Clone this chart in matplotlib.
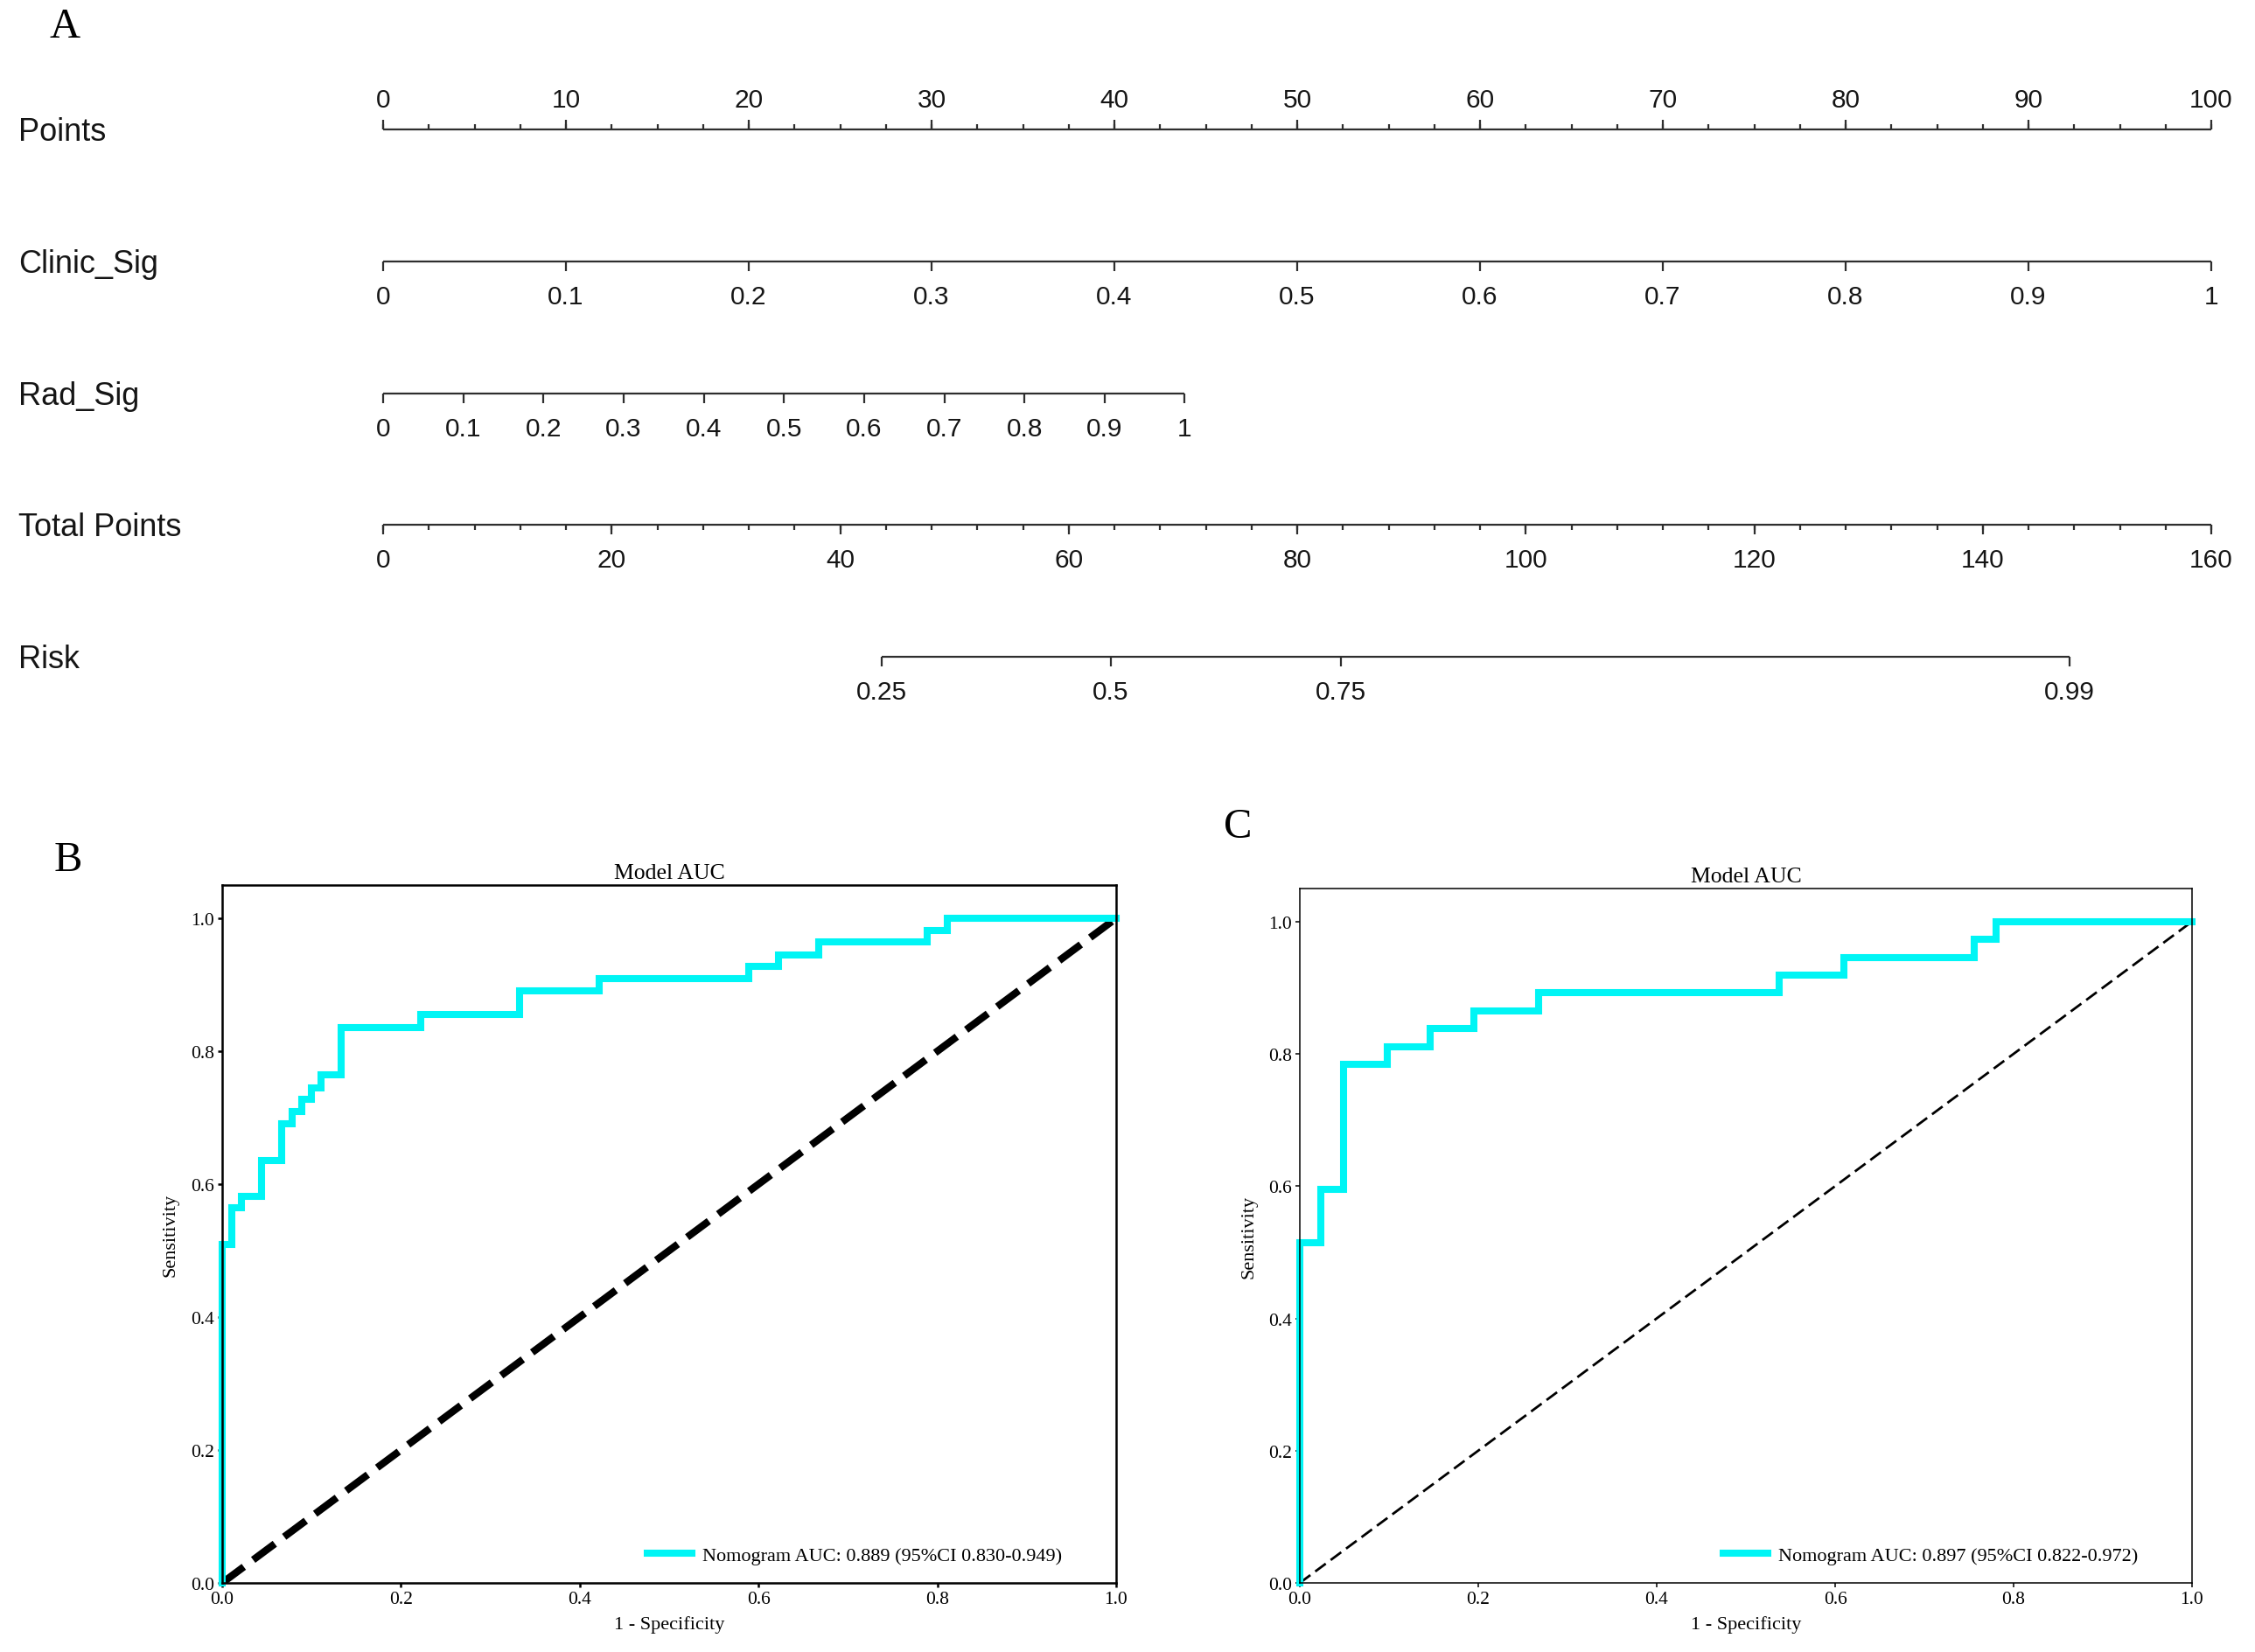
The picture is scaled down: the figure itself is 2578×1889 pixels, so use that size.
"""
Nomogram (A) plus ROC curves for training (B) and validation (C) sets.
"""

import numpy as np
import matplotlib
matplotlib.use('Agg')
import matplotlib.pyplot as plt

W, H = 2578, 1890

# ---------------------------------------------------------------------------
# Nomogram scales (values mapped onto the 0-100 "Points" axis)
# ---------------------------------------------------------------------------
row_names = ['Points', 'Clinic_Sig', 'Rad_Sig', 'Total Points', 'Risk']

points_ticks = [0, 10, 20, 30, 40, 50, 60, 70, 80, 90, 100]
clinic_ticks = [0, 0.1, 0.2, 0.3, 0.4, 0.5, 0.6, 0.7, 0.8, 0.9, 1]
clinic_max_points = 100.0
rad_ticks = [0, 0.1, 0.2, 0.3, 0.4, 0.5, 0.6, 0.7, 0.8, 0.9, 1]
rad_max_points = 43.85
total_ticks = [0, 20, 40, 60, 80, 100, 120, 140, 160]
total_max = 160
risk_ticks = [0.25, 0.5, 0.75, 0.99]
risk_total_points = [43.6, 63.7, 83.8, 147.6]

# ---------------------------------------------------------------------------
# ROC curves
# ---------------------------------------------------------------------------
fpr_train = [0, 0, 0.011, 0.022, 0.044, 0.067, 0.078, 0.089, 0.100, 0.111,
             0.133, 0.222, 0.333, 0.422, 0.589, 0.622, 0.667, 0.789, 0.811, 1.0]
tpr_train = [0, 0.509, 0.564, 0.582, 0.636, 0.691, 0.709, 0.727, 0.745, 0.764,
             0.836, 0.855, 0.891, 0.909, 0.927, 0.945, 0.964, 0.982, 1.0, 1.0]
label_train = 'Nomogram AUC: 0.889 (95%CI 0.830-0.949)'

fpr_test = [0, 0, 0.024, 0.049, 0.098, 0.146, 0.195, 0.268, 0.537, 0.610,
            0.756, 0.780, 1.0]
tpr_test = [0, 0.514, 0.595, 0.784, 0.811, 0.838, 0.865, 0.892, 0.919, 0.946,
            0.973, 1.0, 1.0]
label_test = 'Nomogram AUC: 0.897 (95%CI 0.822-0.972)'

roc_ticks = [0.0, 0.2, 0.4, 0.6, 0.8, 1.0]

SANS = ['Liberation Sans', 'DejaVu Sans']
SERIF = ['Liberation Serif', 'DejaVu Serif']
NOMO_COLOR = '#2e2e2e'
TXT_COLOR = '#151515'
PX = 72.0 / 100  # points per pixel at dpi 100


def px_axes(left, top, right, bottom):
    return [left / W, 1 - bottom / H, (right - left) / W, (bottom - top) / H]


fig = plt.figure(figsize=(W / 100, H / 100), dpi=100)

# ---------------------------------------------------------------------------
# A: nomogram
# ---------------------------------------------------------------------------
ax = fig.add_axes(px_axes(438, 149, 2528, 752))
ax.set_xlim(0, 100)
ax.set_ylim(4, 0)
ax.axis('off')

major_len = 11 / 150.75
minor_len = 6 / 150.75
lw_nomo = 1.6


def draw_scale(row, positions, labels, above=False, minor=None):
    sign = -1 if above else 1  # y axis is inverted
    ax.plot([positions[0], positions[-1]], [row, row], color=NOMO_COLOR,
            lw=lw_nomo, solid_capstyle='butt', clip_on=False)
    ax.vlines(positions, row, row + sign * major_len, color=NOMO_COLOR,
              lw=lw_nomo, clip_on=False)
    if minor is not None:
        ax.vlines(minor, row, row + sign * minor_len, color=NOMO_COLOR,
                  lw=lw_nomo, clip_on=False)
    dy = 26 * PX if above else -48 * PX
    for p, lab in zip(positions, labels):
        ax.annotate(lab, xy=(p, row), xytext=(0, dy), textcoords='offset points',
                    ha='center', va='baseline', fontsize=21.5, family=SANS,
                    color=TXT_COLOR, annotation_clip=False)


# Points
draw_scale(0, points_ticks, [f'{v:g}' for v in points_ticks], above=True,
           minor=np.arange(0, 100.1, 2.5))
# Clinic_Sig
draw_scale(1, [v * clinic_max_points for v in clinic_ticks],
           [f'{v:g}' for v in clinic_ticks])
# Rad_Sig
draw_scale(2, [v * rad_max_points for v in rad_ticks],
           [f'{v:g}' for v in rad_ticks])
# Total Points
draw_scale(3, [v / total_max * 100 for v in total_ticks],
           [f'{v:g}' for v in total_ticks],
           minor=np.arange(0, 100.1, 2.5))
# Risk
draw_scale(4, [v / total_max * 100 for v in risk_total_points],
           [f'{v:g}' for v in risk_ticks])

for i, name in enumerate(row_names):
    ax.annotate(name, xy=(21 / W, i), xycoords=('figure fraction', 'data'),
                xytext=(0, -12 * PX), textcoords='offset points',
                ha='left', va='baseline', fontsize=26, family=SANS,
                color=TXT_COLOR, annotation_clip=False)

# ---------------------------------------------------------------------------
# B, C: ROC curves
# ---------------------------------------------------------------------------


def draw_roc(rect, fpr, tpr, label, diag_lw, diag_dash, frame_lw):
    a = fig.add_axes(rect)
    a.plot([0, 1], [0, 1], color='black', lw=diag_lw, dashes=diag_dash)
    a.step(fpr, tpr, where='post', color='#00f5f5', lw=5.8, label=label,
           clip_on=False, solid_joinstyle='miter')
    a.set_xlim(0, 1)
    a.set_ylim(0, 1.05)
    a.set_xticks(roc_ticks)
    a.set_yticks(roc_ticks)
    a.set_xticklabels([f'{v:.1f}' for v in roc_ticks], family=SERIF, fontsize=15.5)
    a.set_yticklabels([f'{v:.1f}' for v in roc_ticks], family=SERIF, fontsize=15.5)
    a.tick_params(direction='out', length=3.6, width=frame_lw, pad=3)
    for sp in a.spines.values():
        sp.set_linewidth(frame_lw)
        sp.set_color('black')
    a.set_title('Model AUC', family=SERIF, fontsize=18.5, pad=6)
    a.set_xlabel('1 - Specificity', family=SERIF, fontsize=16)
    a.set_ylabel('Sensitivity', family=SERIF, fontsize=16)
    a.xaxis.set_label_coords(0.5, -0.047)
    a.yaxis.set_label_coords(-0.048, 0.5)
    a.legend(loc='lower right', bbox_to_anchor=(0.948, 0.015), borderaxespad=0,
             frameon=False, handlelength=2.3, handletextpad=0.52,
             prop={'family': SERIF, 'size': 16})
    return a


draw_roc(px_axes(254, 1013, 1276, 1811), fpr_train, tpr_train, label_train,
         diag_lw=6, diag_dash=(3.7, 1.6), frame_lw=1.8)
draw_roc(px_axes(1486, 1017, 2506, 1811), fpr_test, tpr_test, label_test,
         diag_lw=2, diag_dash=(5.4, 2.5), frame_lw=1.1)

# panel letters
for letter, (x, y) in zip('ABC', [(74.5, 31), (78, 984), (1415, 946)]):
    fig.text(x / W, 1 - y / H, letter, ha='center', va='center',
             family=SERIF, fontsize=35)

fig.savefig('out.png', dpi=100)
